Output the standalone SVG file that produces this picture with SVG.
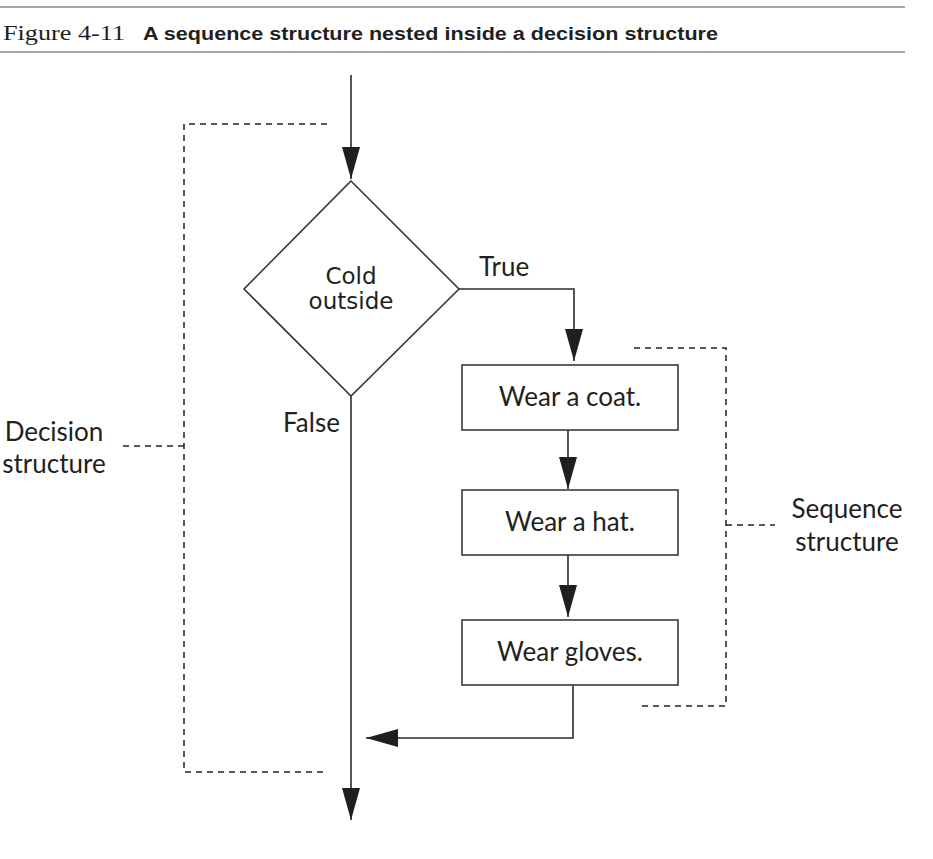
<svg xmlns="http://www.w3.org/2000/svg" width="933" height="859" viewBox="0 0 933 859">
<style>
  .rule{stroke:#8a8a8a;stroke-width:1.5;fill:none}
  .ln{stroke:#2b2b2b;stroke-width:1.6;fill:none}
  .box{stroke:#3a3a3a;stroke-width:1.6;fill:#fff}
  .dash{stroke:#222;stroke-width:1.5;fill:none;stroke-dasharray:6 5}
  .lbl{font-family:Lato,"Noto Sans","DejaVu Sans",sans-serif;font-size:26px;fill:#231f20}
  .dia{font-family:"DejaVu Sans",Verdana,sans-serif;font-size:23px;fill:#231f20}
</style>
<defs>
  <marker id="ah" markerUnits="userSpaceOnUse" markerWidth="32" markerHeight="18" refX="32" refY="9" orient="auto" viewBox="0 0 32 18">
    <path d="M0,0 L32,9 L0,18 Z" fill="#1f1f1f"/>
  </marker>
</defs>
<g id="header">
  <line class="rule" x1="0" y1="7" x2="905" y2="7"/>
  <line class="rule" x1="0" y1="52" x2="905" y2="52"/>
  <text x="3" y="40" font-family="'Liberation Serif',serif" font-size="21" fill="#231f20" textLength="122" lengthAdjust="spacingAndGlyphs">Figure 4-11</text>
  <text x="143" y="40" font-family="'Liberation Sans',Arial,sans-serif" font-weight="bold" font-size="18" fill="#231f20" textLength="575" lengthAdjust="spacingAndGlyphs">A sequence structure nested inside a decision structure</text>
</g>
<g id="connectors">
  <line class="ln" x1="351" y1="75" x2="351" y2="179" marker-end="url(#ah)"/>
  <polyline class="ln" points="459,289 574,289 574,361" marker-end="url(#ah)"/>
  <line class="ln" x1="568" y1="430" x2="568" y2="489" marker-end="url(#ah)"/>
  <line class="ln" x1="568" y1="555" x2="568" y2="617" marker-end="url(#ah)"/>
  <polyline class="ln" points="573,685 573,738 366,738" marker-end="url(#ah)"/>
  <line class="ln" x1="351" y1="396" x2="351" y2="820" marker-end="url(#ah)"/>
  <text class="lbl" x="479" y="276">True</text>
  <text class="lbl" x="283" y="432">False</text>
</g>
<g id="decision">
  <polygon class="box" points="351,181 459,289 351,396 244,289"/>
  <text class="dia" x="351" y="284" text-anchor="middle">Cold</text>
  <text class="dia" x="351" y="309" text-anchor="middle">outside</text>
</g>
<g id="coat">
  <rect class="box" x="462" y="365" width="216" height="65"/>
  <text class="lbl" x="570" y="406" text-anchor="middle">Wear a coat.</text>
</g>
<g id="hat">
  <rect class="box" x="462" y="490" width="216" height="65"/>
  <text class="lbl" x="570" y="531" text-anchor="middle">Wear a hat.</text>
</g>
<g id="gloves">
  <rect class="box" x="462" y="620" width="216" height="65"/>
  <text class="lbl" x="570" y="661" text-anchor="middle">Wear gloves.</text>
</g>
<g id="decision-bracket">
  <polyline class="dash" points="327,124 184,124 184,772 325,772"/>
  <line class="dash" x1="123" y1="446" x2="184" y2="446"/>
  <text class="lbl" x="54" y="441" text-anchor="middle">Decision</text>
  <text class="lbl" x="54" y="473" text-anchor="middle">structure</text>
</g>
<g id="sequence-bracket">
  <polyline class="dash" points="634,348 726,348 726,706 638,706"/>
  <line class="dash" x1="726" y1="525" x2="775" y2="525"/>
  <text class="lbl" x="847" y="518" text-anchor="middle">Sequence</text>
  <text class="lbl" x="847" y="551" text-anchor="middle">structure</text>
</g>
</svg>
